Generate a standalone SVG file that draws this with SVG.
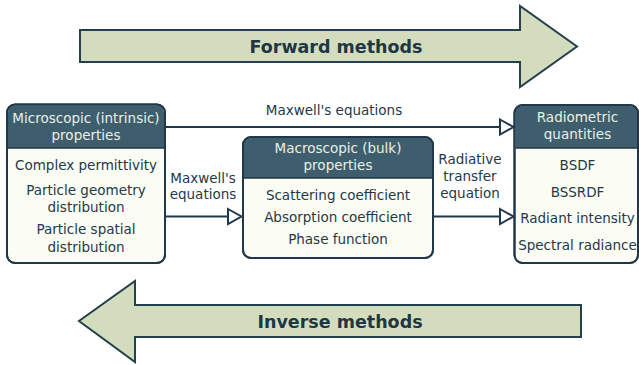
<svg xmlns="http://www.w3.org/2000/svg" width="639" height="365" viewBox="0 0 639 365">
<style>
text{font-family:"DejaVu Sans",Verdana,sans-serif;font-size:13.5px;text-anchor:middle}
.big{font-weight:bold;font-size:17.5px;fill:#1f3644}
.bigarrow{fill:#d3ddbe;stroke:#24404d;stroke-width:2;stroke-linejoin:miter}
.body{fill:#fbfcf3;stroke:#20384a;stroke-width:2}
.head{fill:#3f5e6d}
.ht{fill:#eaf0e6}
.bt{fill:#23394a}
.lbl{fill:#23394a}
.conn{stroke:#20384a;stroke-width:2;fill:none}
.tri{fill:#ffffff;stroke:#20384a;stroke-width:2;stroke-linejoin:miter}
</style>
<rect width="639" height="365" fill="#ffffff"/>
<g id="forward">
<polygon class="bigarrow" points="80,30 520,30 520,6 577,46.5 520,87 520,62 80,62"/>
<text class="big" x="336" y="52.5">Forward methods</text>
</g>
<g id="inverse">
<polygon class="bigarrow" points="581,305 135,305 135,281 79,321 135,362 135,337 581,337"/>
<text class="big" x="340" y="327.5">Inverse methods</text>
</g>
<g id="microscopic">
<rect class="body" x="7" y="104.5" width="158" height="158.5" rx="8"/>
<path class="head" d="M8,148 L8,112.5 Q8,105.5 15,105.5 L157,105.5 Q164,105.5 164,112.5 L164,148 Z"/>
<line x1="8" y1="148" x2="164" y2="148" stroke="#20384a" stroke-width="1.5"/>
<rect x="7" y="104.5" width="158" height="158.5" rx="8" fill="none" stroke="#20384a" stroke-width="2"/>
<text class="ht" x="86" y="123">Microscopic (intrinsic)</text>
<text class="ht" x="86" y="140">properties</text>
<text class="bt" x="86" y="170">Complex permittivity</text>
<text class="bt" x="86" y="195">Particle geometry</text>
<text class="bt" x="86" y="212">distribution</text>
<text class="bt" x="86" y="234">Particle spatial</text>
<text class="bt" x="86" y="251.5">distribution</text>
</g>
<g id="macroscopic">
<rect class="body" x="243" y="137" width="190" height="121" rx="8"/>
<path class="head" d="M244,178 L244,145 Q244,138 251,138 L425,138 Q432,138 432,145 L432,178 Z"/>
<line x1="244" y1="178" x2="432" y2="178" stroke="#20384a" stroke-width="1.5"/>
<rect x="243" y="137" width="190" height="121" rx="8" fill="none" stroke="#20384a" stroke-width="2"/>
<text class="ht" x="338" y="153">Macroscopic (bulk)</text>
<text class="ht" x="338" y="170">properties</text>
<text class="bt" x="338" y="200">Scattering coefficient</text>
<text class="bt" x="338" y="222">Absorption coefficient</text>
<text class="bt" x="338" y="244">Phase function</text>
</g>
<g id="radiometric">
<rect class="body" x="514.5" y="105" width="123.5" height="158" rx="8"/>
<path class="head" d="M515.5,148 L515.5,113 Q515.5,106 522.5,106 L630,106 Q637,106 637,113 L637,148 Z"/>
<line x1="515.5" y1="148" x2="637" y2="148" stroke="#20384a" stroke-width="1.5"/>
<rect x="514.5" y="105" width="123.5" height="158" rx="8" fill="none" stroke="#20384a" stroke-width="2"/>
<text class="ht" x="577.5" y="122">Radiometric</text>
<text class="ht" x="577.5" y="138.5">quantities</text>
<text class="bt" x="577.5" y="170">BSDF</text>
<text class="bt" x="577.5" y="196.5">BSSRDF</text>
<text class="bt" x="577.5" y="223">Radiant intensity</text>
<text class="bt" x="577.5" y="249.5">Spectral radiance</text>
</g>
<g id="connectors">
<line class="conn" x1="165" y1="127" x2="500" y2="127"/>
<polygon class="tri" points="500,119.5 513.5,127 500,134.5"/>
<text class="lbl" x="334" y="115">Maxwell's equations</text>
<line class="conn" x1="165" y1="216.5" x2="228" y2="216.5"/>
<polygon class="tri" points="228,209 241.5,216.5 228,224"/>
<text class="lbl" x="203" y="182.5">Maxwell's</text>
<text class="lbl" x="203" y="198.5">equations</text>
<line class="conn" x1="433" y1="216.5" x2="500" y2="216.5"/>
<polygon class="tri" points="500,209 513.5,216.5 500,224"/>
<text class="lbl" x="470" y="163.5">Radiative</text>
<text class="lbl" x="470" y="181">transfer</text>
<text class="lbl" x="470" y="198">equation</text>
</g>
</svg>
